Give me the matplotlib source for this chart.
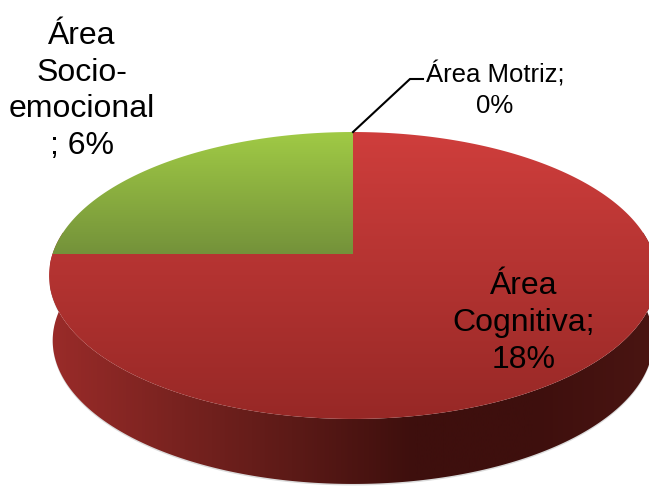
import matplotlib
matplotlib.use("Agg")
import matplotlib.pyplot as plt
from matplotlib.patches import Polygon
from matplotlib.colors import LinearSegmentedColormap
import numpy as np

plt.rcParams['font.family'] = ['Liberation Sans', 'DejaVu Sans']

labels = ['Área Motriz', 'Área Cognitiva', 'Área Socio-emocional']
values = [0, 18, 6]

# fake 3d pie, projective map from the unit circle to the picture
CX, CY = 353, 254
RX = 300.5
PC = 0.1498
PA = -102.2
DEPTH = 65


def project(ang, depth=0, shrink=1.0):
    u, v = np.cos(ang), np.sin(ang)
    w = PC * v + 1
    return CX + RX * shrink * u / w, (PA * v + CY) / w + depth


def gradient(ax, clip, cols, extent, horizontal=False):
    cmap = LinearSegmentedColormap.from_list('g', cols)
    g = np.linspace(0, 1, 256)
    g = g.reshape(1, -1) if horizontal else g.reshape(-1, 1)
    im = ax.imshow(g, cmap=cmap, extent=extent, aspect='auto', zorder=clip.get_zorder())
    im.set_clip_path(clip)


fig = plt.figure(figsize=(6.49, 4.86), dpi=100)
ax = fig.add_axes([0, 0, 1, 1])
ax.axis('off')

# side wall
t = np.linspace(np.radians(171), np.radians(369), 300)
xt, yt = project(t)
xb, yb = project(t, DEPTH, 0.988)
wall = np.column_stack([np.r_[xt, xb[::-1]], np.r_[yt, yb[::-1]]])
ax.add_patch(Polygon(wall + [0, 1.5], closed=True, fc='#b8b8b8', ec='none', alpha=0.5, zorder=1))
wp = Polygon(wall, closed=True, fc='none', ec='none', zorder=2)
ax.add_patch(wp)
gradient(ax, wp, ['#9a2b29', '#7a2320', '#5c1a17', '#3e0f0d', '#3e0f0d', '#4a1512'],
         [50, 655, 486, 0], horizontal=True)

# top slices
total = sum(values)
slice_cols = [None, ['#cf3e3c', '#972826'], ['#a0ca45', '#74923a']]
slice_ext = [None, [0, 649, 420, 132], [0, 649, 254, 132]]
start = np.pi / 2
angles = []
for val, cols, ext in zip(values, slice_cols, slice_ext):
    end = start - 2 * np.pi * val / total
    angles.append((start, end))
    if val > 0:
        a = np.linspace(start, end, 300)
        xs, ys = project(a)
        pts = np.column_stack([np.r_[CX, xs], np.r_[CY, ys]])
        p = Polygon(pts, closed=True, fc='none', ec='none', zorder=3)
        ax.add_patch(p)
        gradient(ax, p, cols, ext)
    start = end

# leader line for the empty slice
lx, ly = project(np.array(angles[0][0]))
ax.plot([lx, 410, 423], [ly, 79, 79], color='black', lw=1.5, zorder=4, solid_joinstyle='miter')

ax.text(495, 90, 'Área Motriz;\n0%', ha='center', va='center', fontsize=18.5, linespacing=1.32)
ax.text(524, 323, 'Área\nCognitiva;\n18%', ha='center', va='center', fontsize=23, linespacing=1.29)
ax.text(82, 91, 'Área\nSocio-\nemocional\n; 6%', ha='center', va='center', fontsize=23, linespacing=1.29)

ax.set_xlim(0, 649)
ax.set_ylim(486, 0)
fig.savefig('out.png', dpi=100, facecolor='white')
